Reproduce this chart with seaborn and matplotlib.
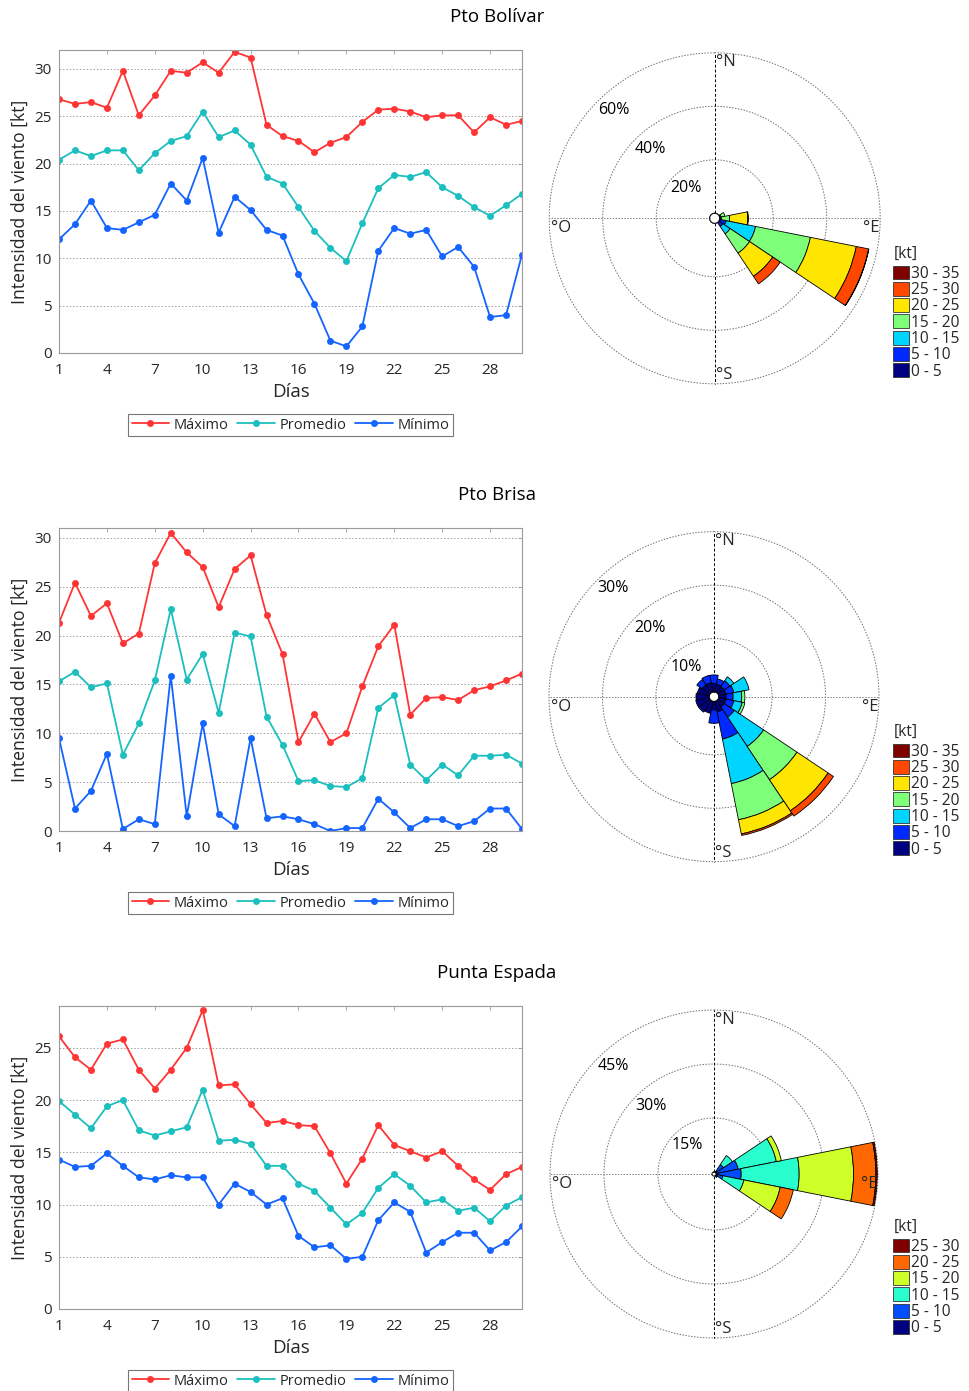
import numpy as np
import pandas as pd
import matplotlib
matplotlib.use("Agg")
import matplotlib.pyplot as plt
from matplotlib.lines import Line2D
from matplotlib.patches import Patch
import seaborn as sns

sns.set_style("white")
plt.rcParams['font.family'] = ['Open Sans', 'DejaVu Sans']

# ---------------- data ----------------
dias = list(range(1, 31))
series_names = ['Máximo', 'Promedio', 'Mínimo']
series_colors = ['#FF3535', '#1BBFBF', '#1464FF']

bol_max = [26.8, 26.3, 26.5, 25.9, 29.8, 25.1, 27.2, 29.8, 29.6, 30.7, 29.6, 31.8, 31.2, 24.1, 22.9,
           22.4, 21.2, 22.2, 22.8, 24.4, 25.7, 25.8, 25.5, 24.9, 25.1, 25.1, 23.3, 24.9, 24.1, 24.5]
bol_avg = [20.4, 21.4, 20.8, 21.4, 21.4, 19.3, 21.1, 22.4, 22.9, 25.5, 22.8, 23.5, 22.0, 18.6, 17.9,
           15.4, 12.9, 11.1, 9.7, 13.7, 17.4, 18.8, 18.6, 19.1, 17.5, 16.6, 15.4, 14.5, 15.6, 16.8]
bol_min = [12.0, 13.6, 16.1, 13.2, 13.0, 13.8, 14.6, 17.9, 16.1, 20.6, 12.7, 16.5, 15.1, 13.0, 12.4,
           8.3, 5.2, 1.3, 0.7, 2.8, 10.8, 13.2, 12.6, 13.0, 10.2, 11.2, 9.1, 3.8, 4.0, 10.4]

bri_max = [21.3, 25.4, 22.0, 23.3, 19.2, 20.2, 27.4, 30.5, 28.5, 27.0, 22.9, 26.8, 28.2, 22.1, 18.1,
           9.1, 12.0, 9.1, 10.0, 14.8, 18.9, 21.1, 11.9, 13.6, 13.7, 13.4, 14.4, 14.8, 15.4, 16.1]
bri_avg = [15.3, 16.3, 14.7, 15.1, 7.8, 11.0, 15.4, 22.7, 15.5, 18.1, 12.1, 20.3, 19.9, 11.7, 8.8,
           5.1, 5.2, 4.6, 4.5, 5.4, 12.6, 13.9, 6.8, 5.2, 6.8, 5.7, 7.7, 7.7, 7.8, 6.9]
bri_min = [9.5, 2.3, 4.1, 7.9, 0.2, 1.2, 0.7, 15.9, 1.5, 11.0, 1.7, 0.5, 9.5, 1.3, 1.5,
           1.2, 0.7, 0.0, 0.3, 0.3, 3.3, 1.9, 0.3, 1.2, 1.2, 0.5, 1.0, 2.3, 2.3, 0.2]

esp_max = [26.1, 24.1, 22.9, 25.4, 25.8, 22.9, 21.1, 22.9, 25.0, 28.6, 21.4, 21.5, 19.6, 17.8, 18.0,
           17.6, 17.5, 14.9, 12.0, 14.4, 17.6, 15.7, 15.1, 14.5, 15.1, 13.7, 12.4, 11.4, 12.9, 13.6]
esp_avg = [19.9, 18.6, 17.3, 19.4, 20.0, 17.1, 16.6, 17.0, 17.4, 21.0, 16.1, 16.2, 15.8, 13.7, 13.7,
           12.0, 11.3, 9.7, 8.1, 9.2, 11.6, 12.9, 11.8, 10.2, 10.5, 9.4, 9.7, 8.4, 9.9, 10.7]
esp_min = [14.3, 13.6, 13.7, 14.9, 13.7, 12.6, 12.4, 12.8, 12.6, 12.6, 10.0, 12.0, 11.2, 10.0, 10.6,
           7.0, 5.9, 6.1, 4.8, 5.0, 8.5, 10.2, 9.3, 5.4, 6.4, 7.3, 7.3, 5.6, 6.4, 7.9]

site_titles = ['Pto Bolívar', 'Pto Brisa', 'Punta Espada']
x_ticks = [1, 4, 7, 10, 13, 16, 19, 22, 25, 28]

# wind rose: directions (deg, clockwise from N) and % per speed bin
rose_dirs = [0, 22.5, 45, 67.5, 90, 112.5, 135, 157.5, 180, 202.5, 225, 247.5, 270, 292.5, 315, 337.5]
bins7 = ['0 - 5', '5 - 10', '10 - 15', '15 - 20', '20 - 25', '25 - 30', '30 - 35']
bins6 = ['0 - 5', '5 - 10', '10 - 15', '15 - 20', '20 - 25', '25 - 30']
#            N    NNE  NE   ENE  E    ESE   SE   SSE  S    SSW  SW   WSW  W    WNW  NW   NNW
bol_0_5   = [0,   0,   0,   0,   0.1, 0.3,  0.3, 0,   0,   0,   0,   0,   0,   0,   0,   0]
bol_5_10  = [0,   0,   0,   0.2, 0.2, 2.2,  1.5, 0,   0,   0,   0,   0,   0,   0,   0,   0]
bol_10_15 = [0,   0,   0,   0.3, 0.3, 11.2, 3.3, 0,   0,   0,   0,   0,   0,   0,   0,   0]
bol_15_20 = [0,   0,   0,   1.5, 3.1, 20.9, 8.7, 0,   0,   0,   0,   0,   0,   0,   0,   0]
bol_20_25 = [0,   0,   0,   0,   6.8, 17.5, 10.4, 0,  0,   0,   0,   0,   0,   0,   0,   0]
bol_25_30 = [0,   0,   0,   0,   0.2, 4.7,  3.4, 0,   0,   0,   0,   0,   0,   0,   0,   0]
bol_30_35 = [0,   0,   0,   0,   0,   0.1,  0,   0,   0,   0,   0,   0,   0,   0,   0,   0]

bri_0_5   = [1.6, 1.5, 1.4, 1.4, 1.4, 1.4, 1.4, 2.0, 1.6, 2.3, 2.3, 2.6, 2.5, 2.3, 1.8, 1.8]
bri_5_10  = [1.6, 1.0, 1.3, 1.5, 1.3, 1.5, 2.3, 5.2, 2.5, 0,   0.3, 0,   0,   0,   1.2, 1.4]
bri_10_15 = [0,   0,   0.9, 2.9, 1.6, 1.6, 6.6, 8.5, 0,   0,   0,   0,   0,   0,   0,   0]
bri_15_20 = [0,   0,   0,   0,   0.6, 0.5, 7.5, 6.9, 0,   0,   0,   0,   0,   0,   0,   0]
bri_20_25 = [0,   0,   0,   0,   0,   0,   7.0, 2.7, 0,   0,   0,   0,   0,   0,   0,   0]
bri_25_30 = [0,   0,   0,   0,   0,   0,   1.2, 0.3, 0,   0,   0,   0,   0,   0,   0,   0]
bri_30_35 = [0,   0,   0,   0,   0,   0,   0,   0,   0,   0,   0,   0,   0,   0,   0,   0]

esp_0_5   = [0,   0,   0.3, 0.3, 0.5,  0.3,  0.2, 0,   0,   0,   0,   0,   0,   0,   0,   0]
esp_5_10  = [0,   0,   2.3, 6.0, 6.5,  1.7,  0.4, 0,   0,   0,   0,   0,   0,   0,   0,   0]
esp_10_15 = [0,   0,   3.0, 10.8, 16.1, 5.9, 0,   0,   0,   0,   0,   0,   0,   0,   0,   0]
esp_15_20 = [0,   0,   0,   1.4, 15.1, 10.3, 0,   0,   0,   0,   0,   0,   0,   0,   0,   0]
esp_20_25 = [0,   0,   0,   0,   6.2,  3.7,  0,   0,   0,   0,   0,   0,   0,   0,   0,   0]
esp_25_30 = [0,   0,   0,   0,   0.4,  0,    0,   0,   0,   0,   0,   0,   0,   0,   0,   0]

rose_rings = [[20, 40, 60], [10, 20, 30], [15, 30, 45]]

# ---------------- figure ----------------
W, H = 969, 1391
fig = plt.figure(figsize=(W / 100, H / 100), dpi=100, facecolor='white')


def fx(px):
    return px / W


def fy(py):
    return 1 - py / H


line_sets = [(bol_max, bol_avg, bol_min), (bri_max, bri_avg, bri_min), (esp_max, esp_avg, esp_min)]
ylims = [32, 31, 29]
ax_bottoms = [353, 831, 1309]
title_y = [17, 495, 973]

frame_col = '#9a9a9a'
text_col = '#262626'

for k in range(3):
    bot = ax_bottoms[k]
    ax = fig.add_axes([fx(59), fy(bot), fx(522) - fx(59), 303 / H])
    mx, av, mn = line_sets[k]
    df = pd.DataFrame({
        'Día': dias * 3,
        'valor': list(mx) + list(av) + list(mn),
        'serie': [series_names[0]] * 30 + [series_names[1]] * 30 + [series_names[2]] * 30,
    })
    sns.lineplot(data=df, x='Día', y='valor', hue='serie',
                 palette=dict(zip(series_names, series_colors)),
                 marker='o', markersize=5, markeredgewidth=0, linewidth=1.3,
                 ax=ax, legend=False)
    ax.set_xlim(1, 30)
    ax.set_ylim(0, ylims[k])
    ax.set_xticks(x_ticks)
    ax.set_yticks(list(range(0, ylims[k] + 1, 5)))
    ax.tick_params(direction='in', length=3, width=0.6, color=frame_col, labelsize=11,
                   labelcolor=text_col, top=True, right=True)
    ax.tick_params(axis='x', pad=7)
    ax.tick_params(axis='y', pad=5)
    for s in ax.spines.values():
        s.set_visible(True)
        s.set_color(frame_col)
        s.set_linewidth(0.8)
    ax.yaxis.grid(True, linestyle=(0, (1.5, 2)), color='#a0a0a0', linewidth=0.7)
    ax.xaxis.grid(False)
    ax.set_axisbelow(True)
    ax.set_xlabel('Días', fontsize=13.5, color=text_col, labelpad=4)
    ax.set_ylabel('Intensidad del viento [kt]', fontsize=12.7, color=text_col, labelpad=4)
    handles = [Line2D([], [], color=c, marker='o', markersize=5, markeredgewidth=0, linewidth=1.3)
               for c in series_colors]
    leg = ax.legend(handles, series_names, loc='upper center', bbox_to_anchor=(0.5, -0.201), ncol=3,
                    fontsize=10.5, frameon=True, fancybox=False, edgecolor='#555555',
                    handlelength=2.6, handletextpad=0.3, columnspacing=0.6, borderpad=0.25,
                    borderaxespad=0)
    leg.get_frame().set_linewidth(0.8)
    for t in leg.get_texts():
        t.set_color(text_col)
    fig.text(fx(497), fy(title_y[k]), site_titles[k], ha='center', va='center', fontsize=13.5, color='black')

# ---------------- wind roses ----------------
rose_sets = [
    ([bol_0_5, bol_5_10, bol_10_15, bol_15_20, bol_20_25, bol_25_30, bol_30_35], bins7),
    ([bri_0_5, bri_5_10, bri_10_15, bri_15_20, bri_20_25, bri_25_30, bri_30_35], bins7),
    ([esp_0_5, esp_5_10, esp_10_15, esp_15_20, esp_20_25, esp_25_30], bins6),
]
centers = [(714.7, 218.3), (714.0, 696.7), (714.0, 1174.0)]
radii = [165.5, 165.0, 164.0]
hole_px = [5.0, 4.7, 2.0]
draw_hole = [True, True, False]
legend_title_y = [254, 732, 1227]
legend_first_y = [274, 752, 1247]

tt = np.linspace(0, 2 * np.pi, 721)
theta = np.deg2rad(np.array(rose_dirs))
width = np.deg2rad(22.5)

for k in range(3):
    bins_data, bin_labels = rose_sets[k]
    cx, cy = centers[k]
    R = radii[k]
    rings = rose_rings[k]
    rmax = rings[-1]
    ax = fig.add_axes([fx(cx - R), fy(cy + R), 2 * R / W, 2 * R / H], projection='polar')
    ax.set_theta_zero_location('N')
    ax.set_theta_direction(-1)
    ax.set_ylim(0, rmax)
    ax.set_rorigin(-rmax * hole_px[k] / (R - hole_px[k]))
    ax.grid(False)
    ax.set_xticks([])
    ax.set_yticks([])
    ax.spines['polar'].set_visible(False)
    ax.patch.set_alpha(0)

    n = len(bins_data)
    cols = plt.cm.jet(np.linspace(0, 1, n))
    bottom = np.zeros(len(rose_dirs))
    for i, vals in enumerate(bins_data):
        v = np.array(vals, dtype=float)
        m = v > 0
        if m.any():
            ax.bar(theta[m], v[m], width=width, bottom=bottom[m], color=cols[i],
                   edgecolor='black', linewidth=0.6, align='center', zorder=3)
        bottom += v

    # rings
    for r in rings:
        ax.plot(tt, np.full_like(tt, r), linestyle=(0, (1.5, 1.5)), color='#707070', linewidth=0.7,
                zorder=1, clip_on=False)
    # axes lines
    for a in [0, np.pi]:
        ax.plot([a, a], [0, rmax], color='black', linestyle=(0, (3, 2)), linewidth=0.7, zorder=1, clip_on=False)
    for a in [np.pi / 2, 3 * np.pi / 2]:
        ax.plot([a, a], [0, rmax], color='#808080', linestyle=(0, (1.5, 1.5)), linewidth=0.7, zorder=1,
                clip_on=False)
    if draw_hole[k]:
        ax.plot(tt, np.zeros_like(tt), color='black', linewidth=0.7, zorder=4)

    # percent labels
    scale = (R - hole_px[k]) / rmax
    for r in rings:
        ax.text(np.deg2rad(317), r - 17 / scale, f'{r}%', ha='center', va='center', fontsize=11.5,
                color='black', zorder=5)

    # cardinal labels
    ax.text(0.503, 0.995, '°N', transform=ax.transAxes, ha='left', va='top', fontsize=12)
    ax.text(0.948, 0.494, '°E', transform=ax.transAxes, ha='left', va='top', fontsize=12)
    ax.text(0.503, 0.052, '°S', transform=ax.transAxes, ha='left', va='top', fontsize=12)
    ax.text(0.006, 0.494, '°O', transform=ax.transAxes, ha='left', va='top', fontsize=12)

    fig.text(fx(894), fy(legend_title_y[k]), '[kt]', ha='left', va='center', fontsize=11.2)
    handles = [Patch(facecolor=cols[i], edgecolor='#333333', linewidth=0.6) for i in range(n)][::-1]
    labels = bin_labels[::-1]
    fig.legend(handles, labels, loc='upper left', bbox_to_anchor=(fx(893), fy(legend_first_y[k] - 8.5)),
               frameon=False, fontsize=11.2,
               handlelength=1.0, handleheight=1.0, labelspacing=0.0, handletextpad=0.15,
               borderpad=0, borderaxespad=0)

fig.savefig('out.png', dpi=100, facecolor='white')
